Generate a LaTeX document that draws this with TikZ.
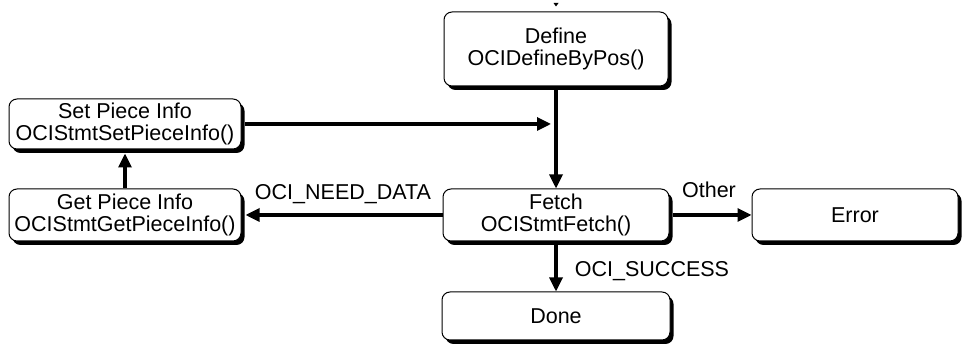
\documentclass[tikz,border=0pt]{standalone}
\usepackage{fontspec}
\setmainfont{Liberation Sans}
\usetikzlibrary{arrows.meta,shadows}
\begin{document}
\begin{tikzpicture}[x=1pt,y=1pt,
  box/.style={draw, line width=1pt, fill=white, rounded corners=8pt, align=center,
    inner sep=0pt, font=\fontsize{21.5}{22}\selectfont,
    general shadow={fill=black, shadow xshift=3.5pt, shadow yshift=-4pt}},
  conn/.style={line width=3.2pt, -{Triangle[length=14pt,width=13pt]}},
  lbl/.style={font=\fontsize{21.5}{22}\selectfont, inner sep=0pt, anchor=base}]
\useasboundingbox (0,0) rectangle (963,347);
\node[box, minimum width=224pt, minimum height=74pt] (define) at (556,298) {Define\\OCIDefineByPos()};
\node[box, minimum width=232pt, minimum height=50pt] (set) at (125,223) {Set Piece Info\\OCIStmtSetPieceInfo()};
\node[box, minimum width=232pt, minimum height=52pt] (get) at (125,132) {Get Piece Info\\OCIStmtGetPieceInfo()};
\node[box, minimum width=226pt, minimum height=52pt] (fetch) at (556,132) {Fetch\\OCIStmtFetch()};
\node[box, minimum width=206pt, minimum height=52pt] (error) at (855,132) {Error};
\node[box, minimum width=228pt, minimum height=48pt] (done) at (556,31) {Done};
\coordinate (join) at (551,223);
\draw[conn] ([yshift=-4pt]define.south) -- (fetch.north);
\draw[conn] ([xshift=3.5pt]set.east) -- (join);
\draw[conn] (get.north) -- ([yshift=-4pt]set.south);
\draw[conn] (fetch.west) -- ([xshift=4pt]get.east);
\draw[conn] ([xshift=3.5pt]fetch.east) -- (error.west);
\draw[conn] ([yshift=-4pt]fetch.south) -- (done.north);
\node[lbl] (lneed) at (343,147) {OCI\_NEED\_DATA};
\node[lbl] (lother) at (709,149) {Other};
\node[lbl] (lsucc) at (652,70) {OCI\_SUCCESS};
\fill (553.5,344) -- (558.5,344) -- (556,340.5) -- cycle;
\end{tikzpicture}
\end{document}
